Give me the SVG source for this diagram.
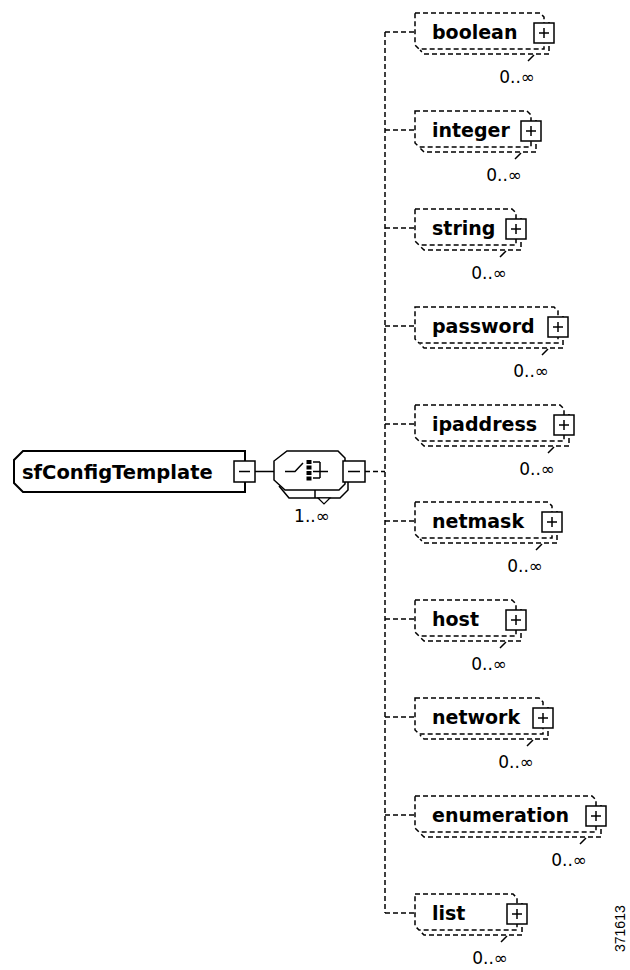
<svg xmlns="http://www.w3.org/2000/svg" width="630" height="970" viewBox="0 0 630 970">
<style>
.dash{fill:none;stroke:#000;stroke-width:1.5;stroke-dasharray:5 3}
.solid{fill:none;stroke:#000;stroke-width:1.5}
.box{fill:#fff;stroke:#000;stroke-width:1.5}
.name{font-family:"DejaVu Sans",sans-serif;font-weight:bold;font-size:19px;fill:#000}
.occ{font-family:"DejaVu Sans",sans-serif;font-size:17px;fill:#000;text-anchor:end}
</style>
<rect width="630" height="970" fill="#fff"/>
<g id="connectors">
<path class="solid" d="M255,471.5 H274"/>
<path class="dash" d="M365,471.5 H385"/>
<path class="dash" d="M385,32 V913"/>
<path class="dash" d="M385,32 H415 M385,130 H415 M385,228 H415 M385,326 H415 M385,424 H415 M385,521 H415 M385,619 H415 M385,717 H415 M385,815 H415 M385,913 H415"/>
</g>
<g id="sfConfigTemplate">
<path d="M23,451 H245 V492 H23 L14,483 V460 Z" fill="#fff" stroke="#000" stroke-width="2"/>
<text class="name" x="22" y="479" style="font-size:19.5px">sfConfigTemplate</text>
<rect class="box" x="234" y="461" width="21" height="21"/>
<path class="solid" d="M239,471.5 H250"/>
</g>
<g id="choice">
<path class="solid" d="M279,486 L289,498 H340 L348,490 V482 M315,490 V498"/>
<polygon points="318,498 330,498 324,504" fill="#fff" stroke="#000" stroke-width="1.2"/>
<path d="M287,451 H338 L345,458 V484 L339,490 H285 L274,480 V461 Z" fill="#fff" stroke="#000" stroke-width="1.5"/>
<path class="solid" d="M285,471.5 H295 L303,463"/>
<rect x="306.5" y="460" width="5" height="4"/>
<rect x="306.5" y="465.5" width="5" height="4"/>
<rect x="306.5" y="471" width="5" height="4"/>
<rect x="306.5" y="476.5" width="5" height="4"/>
<path class="solid" d="M313,462 H320 M313,471.5 H328 M313,478 H320 M320,462 V478"/>
<rect class="box" x="343" y="461" width="22" height="21"/>
<path class="solid" d="M348,471.5 H360"/>
<text class="occ" x="312" y="522" style="text-anchor:middle">1..∞</text>
</g>
<g id="boolean">
<path class="dash" d="M415,13 H540 L544,17 V49 H419 L415,45 Z"/>
<path class="dash" d="M549,22 V54 H424 L420,50"/>
<text class="name" x="432" y="39">boolean</text>
<rect class="box" x="534" y="23" width="20" height="20"/>
<path class="solid" d="M539,33 H549 M544,28 V38 M534,55 L528,61"/>
<text class="occ" x="535" y="83">0..∞</text>
</g>
<g id="integer">
<path class="dash" d="M415,111 H527 L531,115 V147 H419 L415,143 Z"/>
<path class="dash" d="M536,120 V152 H424 L420,148"/>
<text class="name" x="432" y="137">integer</text>
<rect class="box" x="521" y="121" width="20" height="20"/>
<path class="solid" d="M526,131 H536 M531,126 V136 M521,153 L515,159"/>
<text class="occ" x="522" y="181">0..∞</text>
</g>
<g id="string">
<path class="dash" d="M415,209 H512 L516,213 V245 H419 L415,241 Z"/>
<path class="dash" d="M521,218 V250 H424 L420,246"/>
<text class="name" x="432" y="235">string</text>
<rect class="box" x="506" y="219" width="20" height="20"/>
<path class="solid" d="M511,229 H521 M516,224 V234 M506,251 L500,257"/>
<text class="occ" x="507" y="279">0..∞</text>
</g>
<g id="password">
<path class="dash" d="M415,307 H554 L558,311 V343 H419 L415,339 Z"/>
<path class="dash" d="M563,316 V348 H424 L420,344"/>
<text class="name" x="432" y="333">password</text>
<rect class="box" x="548" y="317" width="20" height="20"/>
<path class="solid" d="M553,327 H563 M558,322 V332 M548,349 L542,355"/>
<text class="occ" x="549" y="377">0..∞</text>
</g>
<g id="ipaddress">
<path class="dash" d="M415,405 H560 L564,409 V441 H419 L415,437 Z"/>
<path class="dash" d="M569,414 V446 H424 L420,442"/>
<text class="name" x="432" y="431">ipaddress</text>
<rect class="box" x="554" y="415" width="20" height="20"/>
<path class="solid" d="M559,425 H569 M564,420 V430 M554,447 L548,453"/>
<text class="occ" x="555" y="475">0..∞</text>
</g>
<g id="netmask">
<path class="dash" d="M415,502 H548 L552,506 V538 H419 L415,534 Z"/>
<path class="dash" d="M557,511 V543 H424 L420,539"/>
<text class="name" x="432" y="528">netmask</text>
<rect class="box" x="542" y="512" width="20" height="20"/>
<path class="solid" d="M547,522 H557 M552,517 V527 M542,544 L536,550"/>
<text class="occ" x="543" y="572">0..∞</text>
</g>
<g id="host">
<path class="dash" d="M415,600 H512 L516,604 V636 H419 L415,632 Z"/>
<path class="dash" d="M521,609 V641 H424 L420,637"/>
<text class="name" x="432" y="626">host</text>
<rect class="box" x="506" y="610" width="20" height="20"/>
<path class="solid" d="M511,620 H521 M516,615 V625 M506,642 L500,648"/>
<text class="occ" x="507" y="670">0..∞</text>
</g>
<g id="network">
<path class="dash" d="M415,698 H539 L543,702 V734 H419 L415,730 Z"/>
<path class="dash" d="M548,707 V739 H424 L420,735"/>
<text class="name" x="432" y="724">network</text>
<rect class="box" x="533" y="708" width="20" height="20"/>
<path class="solid" d="M538,718 H548 M543,713 V723 M533,740 L527,746"/>
<text class="occ" x="534" y="768">0..∞</text>
</g>
<g id="enumeration">
<path class="dash" d="M415,796 H592 L596,800 V832 H419 L415,828 Z"/>
<path class="dash" d="M601,805 V837 H424 L420,833"/>
<text class="name" x="432" y="822">enumeration</text>
<rect class="box" x="586" y="806" width="20" height="20"/>
<path class="solid" d="M591,816 H601 M596,811 V821 M586,838 L580,844"/>
<text class="occ" x="587" y="866">0..∞</text>
</g>
<g id="list">
<path class="dash" d="M415,894 H513 L517,898 V930 H419 L415,926 Z"/>
<path class="dash" d="M522,903 V935 H424 L420,931"/>
<text class="name" x="432" y="920">list</text>
<rect class="box" x="507" y="904" width="20" height="20"/>
<path class="solid" d="M512,914 H522 M517,909 V919 M507,936 L501,942"/>
<text class="occ" x="508" y="964">0..∞</text>
</g>
<text transform="translate(625,952) rotate(-90)" x="0" y="0" style="font-family:'Liberation Sans',Arial,sans-serif;font-size:14px">371613</text>
</svg>
